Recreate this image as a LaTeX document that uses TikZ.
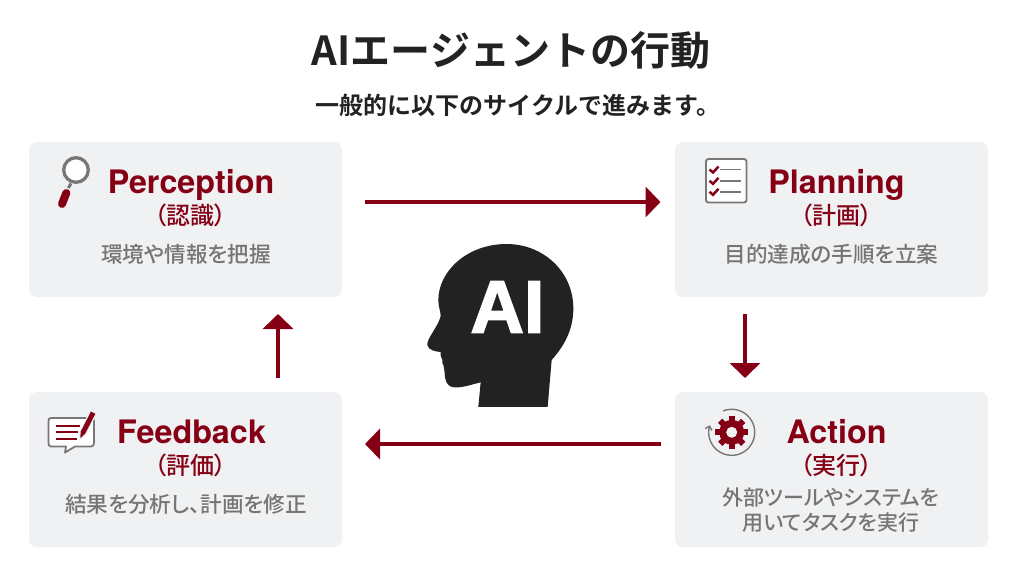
\documentclass[tikz,border=0pt]{standalone}
\usepackage{fontspec}
\usetikzlibrary{arrows.meta}
\setmainfont{Liberation Sans}
\newfontfamily\headfont{TeX Gyre Heros Bold}
\newfontfamily\aifont[FakeBold=2.2]{Liberation Sans Bold}
\newfontfamily\cjkm[RawFeature={+palt}]{Noto Sans CJK JP Medium}
\newfontfamily\cjkb{Noto Sans CJK JP Bold}
\newfontfamily\cjkbp[RawFeature={+palt}]{Noto Sans CJK JP Medium}
\definecolor{crim}{HTML}{850014}
\definecolor{boxgray}{HTML}{F0F1F3}
\definecolor{iconGray}{HTML}{777777}
\definecolor{descGray}{HTML}{757575}
\definecolor{headblack}{HTML}{222222}
\tikzset{
 card/.style={fill=boxgray,rounded corners=8pt,draw=none,minimum width=313pt,minimum height=155pt},
 heading/.style={text=crim,font=\fontsize{32.3}{36}\headfont,inner sep=0pt,anchor=base},
 subhead/.style={text=crim,font=\fontsize{24}{26}\cjkbp,inner sep=0pt},
 desc/.style={text=descGray,font=\fontsize{21.6}{24.5}\cjkm,inner sep=0pt,align=center},
 desctwo/.style={desc,font=\fontsize{21}{24.5}\cjkm},
 flow/.style={draw=crim,line width=4.4pt,-{Triangle[length=15pt,width=30pt]}}
}
\begin{document}
\begin{tikzpicture}[x=1pt,y=-1pt]
\useasboundingbox[fill=white] (0,0) rectangle (1024,576);
\node[inner sep=0pt,font=\fontsize{40}{44}\cjkb,text=headblack] (title) at (511,50) {AIエージェントの行動};
\node[inner sep=0pt,font=\fontsize{24}{28}\cjkb,text=headblack] (sub) at (518,105) {一般的に以下のサイクルで進みます。};
\node[card] (p) at (185.5,219.5) {};
\node[card] (l) at (831.5,219.5) {};
\node[card] (a) at (831.5,469.5) {};
\node[card] (f) at (185.5,469.5) {};
\node[heading] (pt) at (191,193) {Perception};
\node[subhead] (ps) at (190.5,215) {（認識）};
\node[desc] (pd) at (186,254) {環境や情報を把握};
\node[heading] (lt) at (836.5,193) {Planning};
\node[subhead] (ls) at (836.5,215) {（計画）};
\node[desc] (ld) at (831.5,254) {目的達成の手順を立案};
\node[heading] (at) at (836.5,443) {Action};
\node[subhead] (as) at (836.5,465) {（実行）};
\node[desctwo] (ad) at (831,510) {外部ツールやシステムを\\用いてタスクを実行};
\node[heading] (ft) at (191.5,443) {Feedback};
\node[subhead] (fs) at (190.5,465) {（評価）};
\node[desc] (fd) at (186,504) {結果を分析し、計画を修正};
\coordinate (pr) at (365,202); \coordinate (le) at (660.5,202);
\coordinate (lb) at (745,314); \coordinate (at2) at (745,378);
\coordinate (al) at (661,444); \coordinate (fr) at (365,444);
\coordinate (ft2) at (278,378); \coordinate (pb) at (278,314);
\draw[flow] (pr) -- (le);
\draw[flow] (lb) -- (at2);
\draw[flow] (al) -- (fr);
\draw[flow] (ft2) -- (pb);
% head
\begin{scope}[shift={(410,230)},x=0.3333pt,y=-0.3333pt]
\fill[headblack] (205,531) -- (413,531) -- (425,390)
 .. controls (470,340) and (490,290) .. (490,235)
 .. controls (490,125) and (400,42) .. (290,42)
 .. controls (170,42) and (85,125) .. (85,210)
 .. controls (85,230) and (92,245) .. (92,258)
 .. controls (85,290) and (50,325) .. (52,345)
 .. controls (55,362) and (80,365) .. (92,366)
 .. controls (88,380) and (100,385) .. (97,398)
 .. controls (108,420) and (100,440) .. (110,458)
 .. controls (118,472) and (130,473) .. (145,472)
 .. controls (170,470) and (190,462) .. (212,457) -- cycle;
\end{scope}
\node[inner sep=0pt,text=white,font=\fontsize{74}{74}\aifont] (ai) at (507.5,307) {AI};
% magnifier
\draw[draw=iconGray,fill=white,line width=3.3pt] (76,170) circle (12.3pt);
\draw[draw=iconGray,line width=3pt] (71,183.5) -- (68.3,188);
\draw[draw=crim,line width=8pt,line cap=round] (66.3,193) -- (62,204);
% checklist
\draw[draw=iconGray,fill=white,line width=1.8pt,rounded corners=2.5pt] (706,159) rectangle (746.5,202.5);
\foreach \yy in {169.5,180.8,191.8}{
 \draw[draw=iconGray,line width=1.4pt] (720,\yy) -- (741,\yy);
 \draw[draw=crim,line width=2.5pt] (709.5,\yy) -- (713,\yy+3) -- (718.5,\yy-3);
}
% gear
\draw[draw=iconGray,line width=1.4pt,-{Straight Barb[length=3.5pt,width=7pt]}] plot[domain=-112:198,samples=80] ({731.7+23*cos(\x)},{432.3+23*sin(\x)});
\fill[crim] (731.7,432.3) circle (12.5pt);
\foreach \aa in {0,45,...,315}{
 \draw[draw=crim,line width=6pt] ({731.7+9*cos(\aa)},{432.3+9*sin(\aa)}) -- ({731.7+16.3*cos(\aa)},{432.3+16.3*sin(\aa)});
}
\fill[boxgray] (731.7,432.3) circle (5.5pt);
% feedback icon
\draw[draw=iconGray,fill=white,line width=1.8pt,line join=round] (51,418) -- (91,418)
 .. controls (93,418) and (94,419) .. (94,421) -- (94,443)
 .. controls (94,445) and (93,446.5) .. (91,446.5) -- (75,446.5) -- (65,452.5) -- (66,446.5) -- (51,446.5)
 .. controls (49,446.5) and (48.5,445) .. (48.5,443) -- (48.5,421)
 .. controls (48.5,419) and (49,418) .. (51,418) -- cycle;
\foreach \yy/\xx in {425.7/80,432.3/77.5,439/76.5}{
 \draw[draw=crim,line width=1.7pt] (55.7,\yy) -- (\xx,\yy);
}
\draw[draw=boxgray,fill=crim,line width=1.2pt,line join=miter] (96.35,413.46) -- (90.65,410.54) -- (80.15,431.04) -- (79.5,440) -- (85.85,433.96) -- cycle;
\end{tikzpicture}
\end{document}
